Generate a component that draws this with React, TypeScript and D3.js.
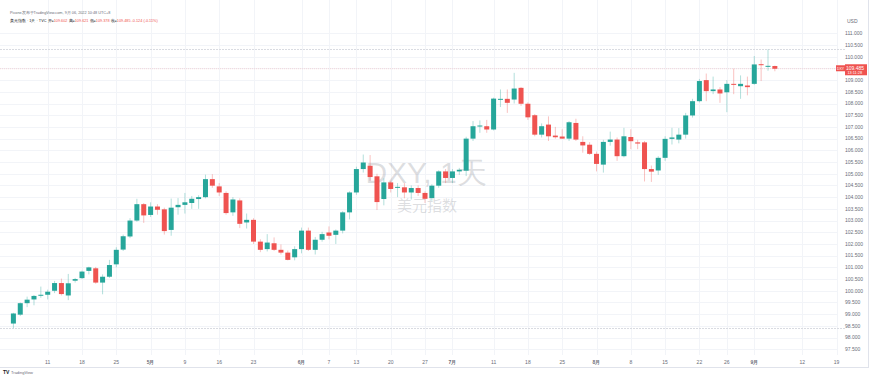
import React, { useEffect, useRef } from "react";
import * as d3 from "d3";

// DXY daily candles, 2022-04-04 .. 2022-09-06
const opens = [
  98.6, 98.98, 99.47, 99.63, 99.79,
  99.83, 100.0, 100.33, 99.8, 100.43,
  100.54, 100.85, 100.96, 100.35, 100.6,
  101.13, 101.76, 102.32, 103.0, 103.7,
  103.24, 103.6, 103.48, 102.6, 103.57,
  103.67, 103.75, 103.92, 104.0, 104.77,
  104.46, 104.18, 103.35, 103.86, 102.92,
  103.03, 102.1, 101.78, 102.03, 101.75,
  101.63, 101.43, 101.78, 102.57, 101.75,
  102.18, 102.49, 102.39, 102.57, 103.35,
  104.2, 105.2, 105.34, 104.89, 103.92,
  104.63, 104.43, 104.42, 104.2, 104.39,
  104.18, 103.96, 104.49, 105.1, 104.82,
  105.1, 105.13, 106.5, 107.03, 107.03,
  106.89, 108.18, 108.2, 108.17, 108.67,
  107.99, 107.5, 106.67, 107.1, 106.63,
  106.59, 106.5, 107.17, 106.36, 106.24,
  105.85, 105.39, 106.36, 106.46, 105.75,
  106.57, 106.34, 106.34, 105.2, 105.14,
  105.68, 106.49, 106.46, 106.67, 107.49,
  108.1, 109.0, 108.53, 108.6, 108.48,
  108.84, 108.74, 108.77, 108.84, 109.68,
  109.6, 109.602,
];
const highs = [
  99.06, 99.5, 99.75, 99.82, 100.18,
  100.05, 100.42, 100.52, 100.72, 100.55,
  100.86, 101.03, 101.02, 100.7, 101.32,
  101.86, 102.4, 103.1, 103.93, 103.75,
  103.78, 103.7, 103.55, 103.94, 103.96,
  104.18, 104.05, 104.08, 104.96, 104.98,
  104.6, 104.25, 104.0, 103.95, 103.3,
  103.1, 102.2, 102.42, 102.28, 101.98,
  101.72, 101.9, 102.7, 102.7, 102.3,
  102.52, 102.75, 102.62, 103.4, 104.25,
  105.3, 105.82, 105.8, 105.0, 104.8,
  104.7, 104.6, 104.6, 104.5, 104.5,
  104.25, 104.55, 105.15, 105.2, 105.2,
  105.25, 106.58, 107.25, 107.28, 107.3,
  108.25, 108.6, 108.6, 109.31, 108.7,
  108.05, 107.55, 107.15, 107.45, 107.0,
  106.9, 107.25, 107.35, 106.6, 106.35,
  105.95, 106.45, 106.8, 106.55, 106.96,
  106.9, 106.45, 106.4, 105.35, 105.75,
  106.6, 106.96, 106.95, 107.6, 108.2,
  109.05, 109.28, 109.15, 108.7, 109.0,
  109.49, 109.2, 109.15, 110.03, 109.88,
  110.31, 109.621,
];
const lows = [
  98.4, 98.92, 99.3, 99.38, 99.7,
  99.63, 99.9, 99.8, 99.6, 100.35,
  100.5, 100.7, 100.3, 99.85, 100.55,
  101.0, 101.7, 102.25, 102.95, 102.9,
  103.15, 103.25, 102.4, 102.35, 103.25,
  103.3, 103.5, 103.5, 103.95, 104.4,
  104.05, 103.25, 103.2, 102.68, 102.66,
  102.0, 101.65, 101.68, 101.7, 101.55,
  101.3, 101.3, 101.6, 101.7, 101.55,
  102.1, 102.2, 102.0, 102.45, 103.05,
  104.1, 105.05, 104.7, 103.45, 103.65,
  104.2, 104.0, 103.95, 103.9, 104.05,
  103.75, 103.85, 104.4, 104.6, 104.6,
  104.95, 104.9, 106.4, 106.75, 106.75,
  106.85, 107.85, 107.6, 108.0, 107.9,
  107.3, 106.6, 106.55, 106.4, 106.5,
  106.5, 106.4, 106.4, 105.9, 105.8,
  105.1, 105.05, 106.2, 105.55, 105.7,
  106.05, 106.05, 104.67, 104.65, 104.95,
  105.55, 106.25, 106.3, 106.5, 107.4,
  108.05, 108.1, 108.4, 108.03, 107.63,
  108.4, 108.2, 108.35, 108.8, 108.96,
  109.4, 109.378,
];
const closes = [
  99.03, 99.47, 99.62, 99.78, 99.83,
  99.96, 100.33, 99.86, 100.32, 100.5,
  100.82, 101.0, 100.35, 100.6, 101.1,
  101.75, 102.33, 103.0, 103.7, 103.22,
  103.6, 103.46, 102.55, 103.55, 103.67,
  103.78, 103.93, 104.0, 104.77, 104.49,
  104.2, 103.32, 103.9, 102.86, 103.03,
  102.1, 101.75, 102.06, 101.75, 101.63,
  101.32, 101.78, 102.57, 101.75, 102.18,
  102.42, 102.35, 102.57, 103.35, 104.2,
  105.2, 105.48, 104.86, 103.79, 104.63,
  104.35, 104.44, 104.2, 104.39, 104.18,
  103.93, 104.49, 105.1, 104.82, 105.1,
  105.17, 106.5, 107.03, 107.06, 106.89,
  108.21, 108.2, 108.03, 108.64, 107.99,
  107.41, 106.67, 107.03, 106.6, 106.56,
  106.5, 107.2, 106.46, 106.21, 105.85,
  105.42, 106.36, 106.46, 105.75, 106.6,
  106.39, 106.29, 105.2, 105.09, 105.68,
  106.49, 106.55, 106.67, 107.49, 108.1,
  108.96, 108.53, 108.6, 108.43, 108.84,
  108.8, 108.84, 108.7, 109.67, 109.64,
  109.61, 109.485,
];

// weekday sessions, including empty future slots up to the last time label
const allDays = d3.utcDays(new Date(Date.UTC(2022, 3, 4)), new Date(Date.UTC(2022, 8, 20)))
  .filter((d) => d.getUTCDay() !== 0 && d.getUTCDay() !== 6)
  .map((d) => d3.utcFormat("%Y-%m-%d")(d));
const dates = allDays.slice(0, closes.length);

const timeTicks = [
  ["2022-04-11", "11"], ["2022-04-18", "18"], ["2022-04-25", "25"], ["2022-05-02", "5月"],
  ["2022-05-09", "9"], ["2022-05-16", "16"], ["2022-05-23", "23"], ["2022-06-01", "6月"],
  ["2022-06-07", "7"], ["2022-06-13", "13"], ["2022-06-20", "20"], ["2022-06-27", "27"],
  ["2022-07-01", "7月"], ["2022-07-11", "11"], ["2022-07-18", "18"], ["2022-07-25", "25"],
  ["2022-08-01", "8月"], ["2022-08-08", "8"], ["2022-08-15", "15"], ["2022-08-22", "22"],
  ["2022-08-26", "26"], ["2022-09-01", "9月"], ["2022-09-12", "12"], ["2022-09-19", "19"],
];
const priceTicks = d3.range(97.5, 111.01, 0.5);

const legendFields = [["开", 109.602], ["高", 109.621], ["低", 109.378], ["收", 109.485]];
const change = "-0.124 (-0.11%)";

const UP = "#26a69a";
const DOWN = "#ef5350";
const FONT = "'Liberation Sans', Arial, sans-serif";

const App = () => {
  const svgRef = useRef<SVGSVGElement>(null);

  useEffect(() => {
    const svg = d3.select(svgRef.current);
    svg.selectAll("*").remove();

    const width = 872;
    const height = 377;
    const paneRight = 838;
    const paneBottom = 355;

    const x = d3.scalePoint().domain(allDays).range([13.4, 836.6]);
    const y = d3.scaleLinear().domain([97.5, 111]).range([349.3, 33.3]);

    svg.append("rect").attr("width", width).attr("height", height).attr("fill", "#fff");

    // grid
    const grid = svg.append("g");
    grid.selectAll("line.h")
      .data(priceTicks)
      .join("line")
      .attr("x1", 0).attr("x2", paneRight)
      .attr("y1", (d) => Math.round(y(d)) + 0.5).attr("y2", (d) => Math.round(y(d)) + 0.5)
      .attr("stroke", "#f2f4f8");
    grid.selectAll("line.v")
      .data(timeTicks)
      .join("line")
      .attr("x1", (d) => Math.round(x(d[0])!) + 0.5).attr("x2", (d) => Math.round(x(d[0])!) + 0.5)
      .attr("y1", 0).attr("y2", paneBottom)
      .attr("stroke", "#f2f4f8");

    // watermark
    svg.append("text")
      .attr("x", 426).attr("y", 183)
      .attr("text-anchor", "middle")
      .style("font-family", FONT)
      .style("font-size", "30px")
      .attr("fill", "#787b86").attr("fill-opacity", 0.25)
      .text("DXY, 1天");
    svg.append("text")
      .attr("x", 427).attr("y", 211)
      .attr("text-anchor", "middle")
      .style("font-family", "'Noto Sans CJK SC', sans-serif")
      .style("font-size", "15px")
      .attr("fill", "#787b86").attr("fill-opacity", 0.25)
      .text("美元指数");

    // visible range high / low lines
    [d3.max(highs)!, d3.min(lows)!].forEach((v) => {
      svg.append("line")
        .attr("x1", 0).attr("x2", 845)
        .attr("y1", Math.round(y(v)) + 0.5).attr("y2", Math.round(y(v)) + 0.5)
        .attr("stroke", "#d9dbe1").attr("stroke-dasharray", "2,1");
    });

    // last price line
    const last = closes[closes.length - 1];
    svg.append("line")
      .attr("x1", 0).attr("x2", paneRight)
      .attr("y1", y(last)).attr("y2", y(last))
      .attr("stroke", DOWN).attr("stroke-opacity", 0.2).attr("stroke-dasharray", "1,1");

    // candles
    const candles = svg.append("g")
      .selectAll("g")
      .data(dates.map((d, i) => ({ d, o: opens[i], h: highs[i], l: lows[i], c: closes[i] })))
      .join("g")
      .attr("fill", (k) => (k.c >= k.o ? UP : DOWN))
      .attr("stroke", (k) => (k.c >= k.o ? UP : DOWN));
    candles.append("line")
      .attr("x1", (k) => x(k.d)!).attr("x2", (k) => x(k.d)!)
      .attr("y1", (k) => y(k.h)).attr("y2", (k) => y(k.l))
      .attr("stroke-width", 0.8).attr("stroke-opacity", 0.45);
    candles.append("rect")
      .attr("x", (k) => x(k.d)! - 2.5)
      .attr("width", 5)
      .attr("y", (k) => y(Math.max(k.o, k.c)))
      .attr("height", (k) => Math.max(1, Math.abs(y(k.o) - y(k.c))))
      .attr("stroke", "none");

    // price axis
    svg.append("text")
      .attr("x", 847).attr("y", 22.5)
      .style("font-family", FONT).style("font-size", "5px")
      .attr("fill", "#6a6d78").text("USD");
    svg.append("g")
      .selectAll("text")
      .data(priceTicks)
      .join("text")
      .attr("x", 845).attr("y", (d) => y(d) + 1.8)
      .style("font-family", FONT).style("font-size", "5px")
      .attr("fill", "#6a6d78")
      .text((d) => d3.format(".3f")(d));

    // last price label
    svg.append("rect").attr("x", 836).attr("y", y(last) - 3.5).attr("width", 9).attr("height", 6).attr("fill", DOWN);
    svg.append("text")
      .attr("x", 840.5).attr("y", y(last) + 1)
      .attr("text-anchor", "middle")
      .style("font-family", FONT).style("font-size", "3.5px")
      .attr("fill", "#fff").text("DXY");
    svg.append("rect").attr("x", 845).attr("y", y(last) - 4.5).attr("width", 22).attr("height", 11).attr("fill", DOWN);
    svg.append("text")
      .attr("x", 846).attr("y", y(last) + 1.2)
      .style("font-family", FONT).style("font-size", "5px")
      .attr("fill", "#fff").text(d3.format(".3f")(last));
    svg.append("text")
      .attr("x", 847.5).attr("y", y(last) + 5.5)
      .style("font-family", FONT).style("font-size", "3.8px")
      .attr("fill", "#fff").text("13:11:28");

    // time axis
    svg.append("g")
      .selectAll("text")
      .data(timeTicks)
      .join("text")
      .attr("x", (d) => x(d[0])!).attr("y", 363.5)
      .attr("text-anchor", "middle")
      .style("font-family", FONT).style("font-size", "5px")
      .style("font-weight", (d) => (d[1].includes("月") ? "bold" : "normal"))
      .attr("fill", "#6a6d78")
      .text((d) => d[1]);

    // pane borders
    svg.append("line").attr("x1", 0).attr("x2", 868).attr("y1", 367.5).attr("y2", 367.5).attr("stroke", "#e0e3eb");
    svg.append("line").attr("x1", 868.5).attr("x2", 868.5).attr("y1", 0).attr("y2", 368).attr("stroke", "#e0e3eb");

    // header
    svg.append("text")
      .attr("x", 10).attr("y", 13.5)
      .style("font-family", FONT).style("font-size", "3.8px")
      .attr("fill", "#6a6d78")
      .text("Picone发布于TradingView.com, 9月 06, 2022 10:48 UTC+8");
    const legend = svg.append("text")
      .attr("x", 10).attr("y", 22)
      .style("font-family", FONT).style("font-size", "3.8px")
      .attr("fill", "#131722");
    legend.append("tspan").text("美元指数 · 1天 · TVC ");
    legendFields.forEach(([k, v]) => {
      legend.append("tspan").attr("fill", "#131722").text(" " + k + "=");
      legend.append("tspan").attr("fill", DOWN).text(d3.format(".3f")(v as number));
    });
    legend.append("tspan").attr("fill", DOWN).text(" " + change);

    // footer logo
    svg.append("text")
      .attr("x", 3).attr("y", 373.5)
      .style("font-family", FONT).style("font-size", "5px").style("font-weight", "bold")
      .attr("fill", "#131722").text("TV");
    svg.append("text")
      .attr("x", 11).attr("y", 373.5)
      .style("font-family", FONT).style("font-size", "4px")
      .attr("fill", "#6a6d78").text("TradingView");
  }, []);

  return (
    <svg
      ref={svgRef}
      width={872}
      height={377}
      style={{ position: "absolute", left: 0, top: 0 }}
    ></svg>
  );
};

export default App;
